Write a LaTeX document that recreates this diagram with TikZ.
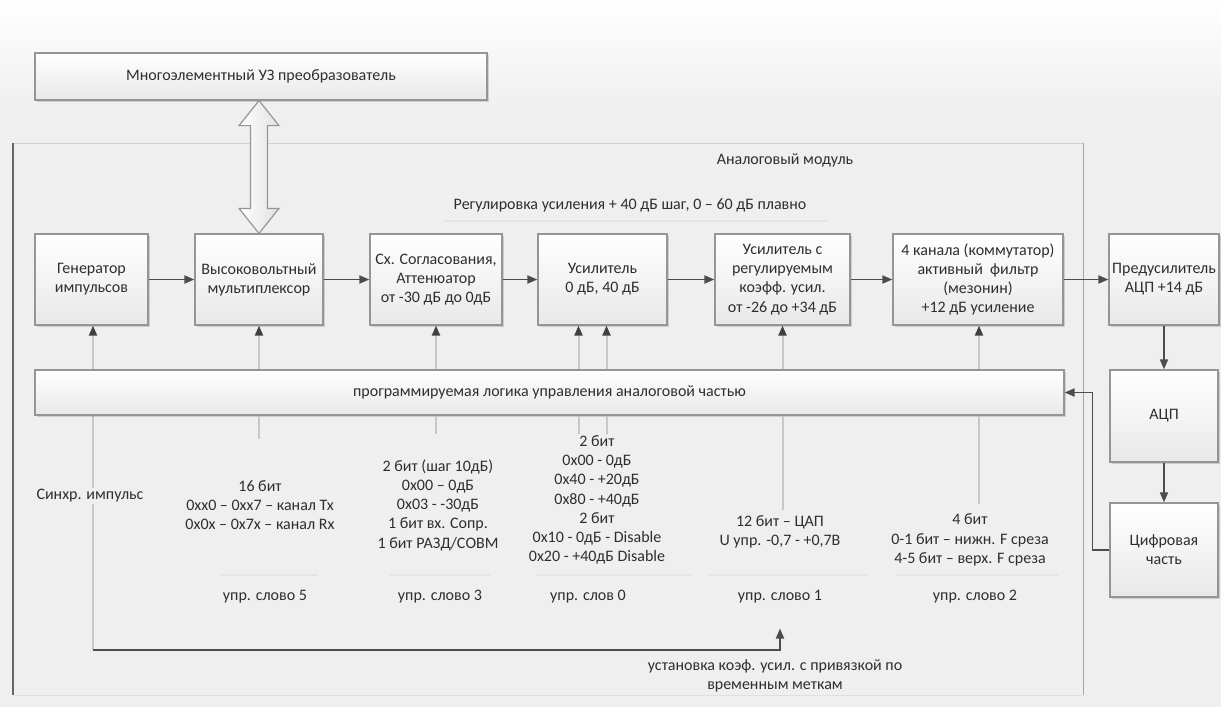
\documentclass[tikz,border=0pt]{standalone}
\usepackage{fontspec}
\setmainfont{Carlito}
\usepackage{tikz}
\usetikzlibrary{arrows.meta,positioning,calc,shadows}
\definecolor{bg}{HTML}{EFEFEF}
\definecolor{ink}{HTML}{2E2E2E}
\definecolor{edge}{HTML}{959595}

\begin{document}
\begin{tikzpicture}[x=0.5pt,y=-0.5pt,
  font=\fontsize{8}{9.6}\selectfont, text=ink,
  blk/.style={draw=edge, line width=0.6pt, top color=white, bottom color=black!9,
    drop shadow={shadow xshift=0.8pt,shadow yshift=-0.8pt,opacity=0.3},
    align=center, inner sep=1pt},
  bigarr/.style={draw=edge, line width=0.6pt, left color=white, right color=black!12},
  flow/.style={draw=black!70, line width=0.9pt, -{Triangle[length=5pt,width=4pt]}},
  ctl/.style={draw=black!22, line width=1pt, -{Triangle[length=5pt,width=4pt,color=black!75]}},
  tap/.style={draw=black!22, line width=1pt},
  sep/.style={draw=black!10, line width=0.8pt},
  lbl/.style={align=center, inner sep=1pt}]
\def\rowy{279.5}
\useasboundingbox (0,0) rectangle (1221,707);
\fill[bg] (0,0) rectangle (1221,707);
\shade[top color=white, bottom color=bg] (0,0) rectangle (1221,110);

\coordinate (fa) at (13,143);
\coordinate (fb) at (1083,695);
\draw[black!18] (fa) -- (fa -| fb);
\draw[black!35] (fa -| fb) -- (fb);
\draw[black!12] (fb) -- (fb -| fa);
\draw[black!60, line width=0.8pt] (fa) -- (fa |- fb);

\node (mod) at (785,160) {Аналоговый модуль};
\node (reg) at (630,205) {Регулировка усиления + 40 дБ шаг, 0 – 60 дБ плавно};
\draw[sep] (443,221) -- (827,221);

\node[blk, minimum width=226pt, minimum height=23.5pt] (uz) at (261,76.5) {Многоэлементный УЗ преобразователь};

\node[blk, minimum width=56.5pt, minimum height=45.5pt] (gen) at (91.5,\rowy) {Генератор\\импульсов};
\node[blk, minimum width=64pt, minimum height=45.5pt] (mux) at (259,\rowy) {Высоковольтный\\мультиплексор};
\node[blk, minimum width=66pt, minimum height=45.5pt] (att) at (436,\rowy) {Сх. Согласования,\\Аттенюатор\\от -30 дБ до 0дБ};
\node[blk, minimum width=64.5pt, minimum height=45.5pt] (amp) at (602.5,\rowy) {Усилитель\\0 дБ, 40 дБ};
\node[blk, minimum width=67.5pt, minimum height=45.5pt] (vga) at (782.5,\rowy) {Усилитель с\\регулируемым\\коэфф. усил.\\от -26 до +34 дБ};
\node[blk, minimum width=85pt, minimum height=45.5pt] (flt) at (978,\rowy) {4 канала (коммутатор)\\активный~ фильтр\\(мезонин)\\+12 дБ усиление};
\node[blk, minimum width=55pt, minimum height=45.5pt] (pre) at (1164,\rowy) {Предусилитель\\АЦП +14 дБ};
\node[blk, minimum width=54pt, minimum height=46pt] (adc) at (1164,416) {АЦП};
\node[blk, minimum width=54pt, minimum height=47pt] (dig) at (1164,550) {Цифровая\\часть};

\coordinate (ua) at (uz.south -| mux.north);
\draw[bigarr] (ua) -- ($(ua)+(20,25)$) -- ($(ua)+(8.5,25)$)
  -- ($(mux.north)+(8.5,-25)$) -- ($(mux.north)+(20,-25)$) -- (mux.north)
  -- ($(mux.north)+(-20,-25)$) -- ($(mux.north)+(-8.5,-25)$)
  -- ($(ua)+(-8.5,25)$) -- ($(ua)+(-20,25)$) -- cycle;

\coordinate (sy) at (93,650);
\draw[ctl] (sy) -- (sy |- gen.south);

\node[blk, minimum width=514.5pt, minimum height=22.5pt] (bar) at (549.5,392.5) {программируемая логика управления аналоговой частью};

\foreach \b/\d/\l in {mux/0/23, att/0/18, amp/-24/18, amp/4/18, vga/0/94, flt/1/88} {
  \draw[ctl] ($(bar.north -| \b.south)+(\d,0)$) -- ($(\b.south)+(\d,0)$);
  \draw[tap] ($(bar.south -| \b.south)+(\d,0)$) -- ++(0,\l);
}

\foreach \a/\b in {gen/mux, mux/att, att/amp, amp/vga, vga/flt, flt/pre, pre/adc, adc/dig}
  \draw[flow] (\a) -- (\b);
\draw[flow] (dig.west) -- ++(-17,0) |- (bar.east);

\node[lbl, fill=bg] (syn) at (90,496) {Синхр. импульс};
\node[lbl] (t5) at (260,505) {16 бит\\0xx0 – 0xx7 – канал Tx\\0x0x – 0x7x – канал Rx};
\node[lbl] (t3) at (438,505) {2 бит (шаг 10дБ)\\0x00 – 0дБ\\0x03 - -30дБ\\1 бит вх. Сопр.\\1 бит РАЗД/СОВМ};
\node[lbl] (t0) at (597,500) {2 бит\\0x00 - 0дБ\\0x40 - +20дБ\\0x80 - +40дБ\\2 бит\\0x10 - 0дБ - Disable\\0x20 - +40дБ Disable};
\node[lbl] (t1) at (780,532) {12 бит – ЦАП\\U упр. -0,7 - +0,7В};
\node[lbl] (t2) at (970,540) {4 бит\\0-1 бит – нижн. F среза\\4-5 бит – верх. F среза};

\foreach \n/\x/\a/\b/\t in {w5/265/220/318/5, w3/440/390/490/3, w1/780/709/868/1, w2/975/896/1058/2} {
  \draw[sep] (\a,575) -- (\b,575);
  \node (\n) at (\x,597) {упр. слово \t};
}
\draw[sep] (537,575) -- (692,575);
\node (w0) at (588,597) {упр. слов 0};

\draw[flow, shorten >=9pt] (sy) -| (w1.south);
\node[lbl] (fix) at (775,676) {установка коэф. усил. с привязкой по\\временным меткам};
\end{tikzpicture}
\end{document}
